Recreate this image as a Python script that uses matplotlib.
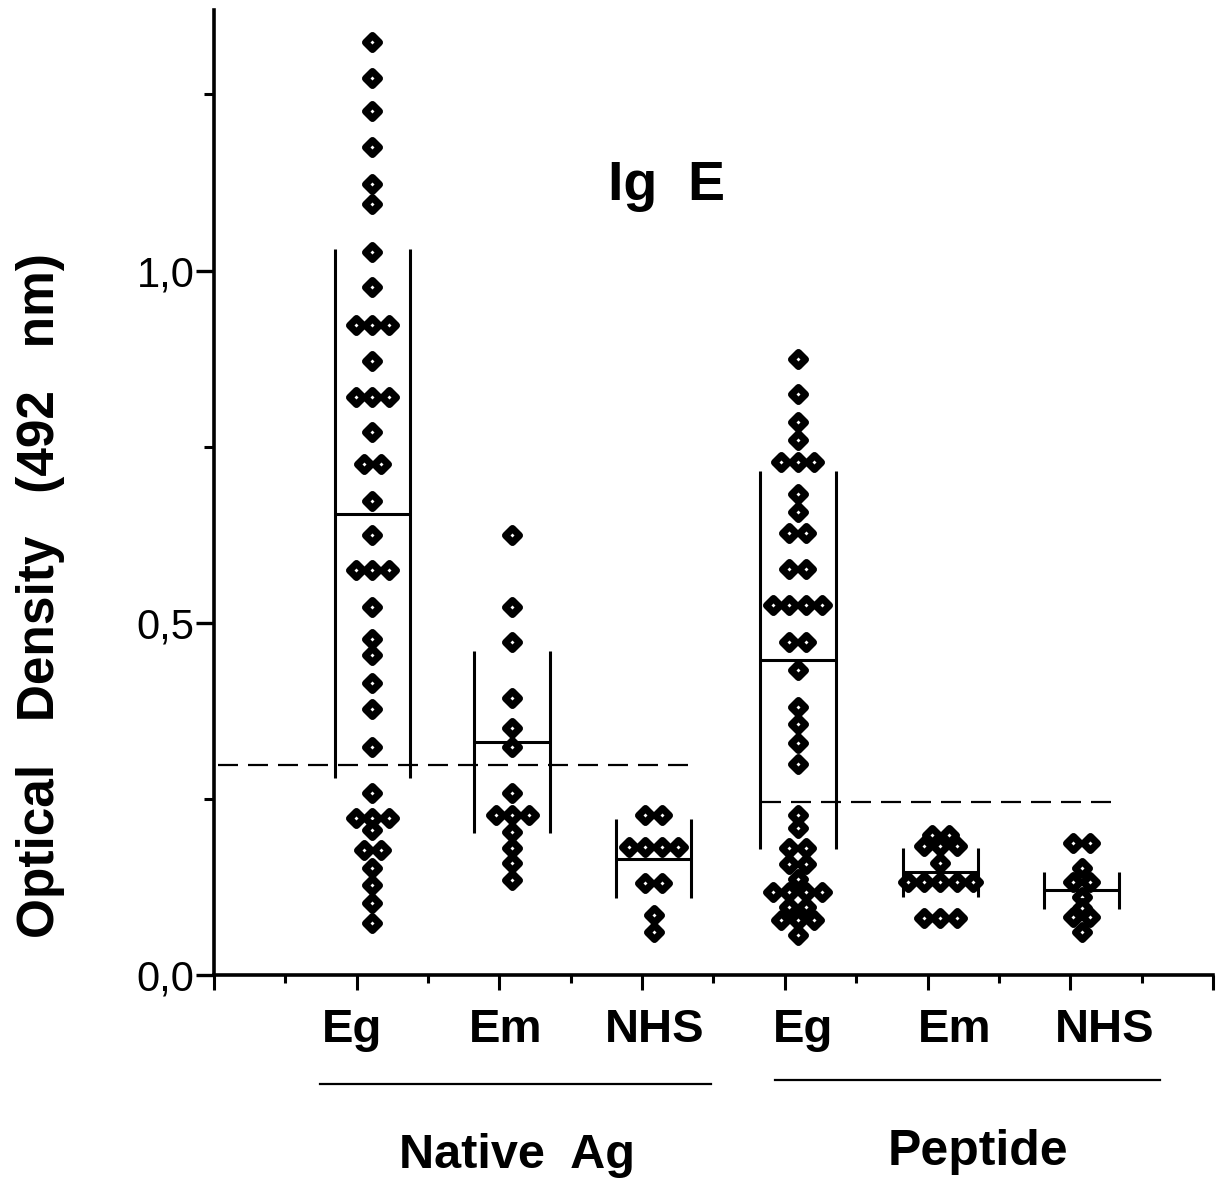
import matplotlib
matplotlib.use("Agg")
import matplotlib.pyplot as plt
from matplotlib.markers import MarkerStyle
from matplotlib.transforms import blended_transform_factory
from collections import Counter

plt.rcParams['font.family'] = ['Liberation Sans', 'DejaVu Sans']

# ---------------- data ----------------
categories = ["Eg", "Em", "NHS", "Eg", "Em", "NHS"]
groups = ["Native  Ag", "Peptide"]

native_eg = [1.324, 1.274, 1.226, 1.175, 1.123, 1.095, 1.026, 0.976,
             0.923, 0.923, 0.923, 0.872, 0.820, 0.820, 0.820, 0.771,
             0.726, 0.726, 0.673, 0.624, 0.575, 0.575, 0.575, 0.522,
             0.477, 0.454, 0.414, 0.377, 0.324, 0.258, 0.223, 0.223,
             0.223, 0.206, 0.177, 0.177, 0.152, 0.128, 0.102, 0.074]
native_em = [0.624, 0.522, 0.473, 0.393, 0.350, 0.324, 0.258,
             0.227, 0.227, 0.227, 0.203, 0.180, 0.159, 0.135]
native_nhs = [0.227, 0.227, 0.182, 0.182, 0.182, 0.182, 0.130, 0.130,
              0.085, 0.061]
pep_eg = [0.875, 0.825, 0.785, 0.759, 0.728, 0.728, 0.728, 0.683, 0.657,
          0.627, 0.627, 0.577, 0.577, 0.525, 0.525, 0.525, 0.525,
          0.473, 0.473, 0.433, 0.381, 0.357, 0.329, 0.300,
          0.227, 0.209, 0.180, 0.180, 0.157, 0.157, 0.136,
          0.118, 0.118, 0.118, 0.118, 0.096, 0.096, 0.078, 0.078, 0.078,
          0.057]
pep_em = [0.199, 0.199, 0.183, 0.183, 0.183, 0.159,
          0.132, 0.132, 0.132, 0.132, 0.132, 0.081, 0.081, 0.081]
pep_nhs = [0.187, 0.187, 0.152, 0.132, 0.132, 0.111, 0.095, 0.082,
           0.082, 0.061]

series = [native_eg, native_em, native_nhs, pep_eg, pep_em, pep_nhs]
means = [0.655, 0.331, 0.165, 0.447, 0.146, 0.120]
sds = [0.375, 0.129, 0.056, 0.268, 0.035, 0.026]
cutoffs = [0.298, 0.245]

yticks = [0.0, 0.5, 1.0]
ytick_labels = ["0,0", "0,5", "1,0"]

# ---------------- layout ----------------
positions = [1.11, 2.09, 3.08, 4.09, 5.09, 6.08]
label_x = [0.97, 2.04, 3.09, 4.13, 5.19, 6.24]
dot_step = 0.115
bar_half = 0.265

fig = plt.figure(figsize=(12.16, 11.85), dpi=100)
ax = fig.add_axes([0.176, 0.1772, 0.8215, 0.8144])
ax.set_xlim(0, 7)
ax.set_ylim(0, 1.37)

marker = MarkerStyle('D', joinstyle='round')

for pos, vals, m, s in zip(positions, series, means, sds):
    counts = Counter(vals)
    seen = Counter()
    xs, ys = [], []
    for v in vals:
        n = counts[v]
        k = seen[v]
        seen[v] += 1
        xs.append(pos + (k - (n - 1) / 2) * dot_step)
        ys.append(v)
    ax.plot(xs, ys, linestyle='none', marker=marker, ms=7.2, mew=5.1,
            mfc='white', mec='black', zorder=3)
    # mean +/- SD frame
    ax.vlines([pos - bar_half, pos + bar_half], m - s, m + s,
              colors='black', lw=2.2, zorder=2)
    ax.hlines(m, pos - bar_half, pos + bar_half, colors='black', lw=2.2,
              zorder=4)

# cutoff lines
ax.hlines(cutoffs[0], 0.03, 3.32, colors='black', lw=1.6,
          linestyles=(0, (9, 4.5)), zorder=2)
ax.hlines(cutoffs[1], 3.83, 6.33, colors='black', lw=1.6,
          linestyles=(0, (9, 4.5)), zorder=2)

# axes style
for side in ['top', 'right']:
    ax.spines[side].set_visible(False)
ax.spines['left'].set_linewidth(2.6)
ax.spines['bottom'].set_linewidth(2.6)

ax.set_xticks(range(0, 8))
ax.set_xticks([i + 0.5 for i in range(7)], minor=True)
ax.set_xticklabels([])
ax.tick_params(axis='x', which='major', direction='out', length=11, width=2.2)
ax.tick_params(axis='x', which='minor', direction='out', length=6, width=2.2)

ax.set_yticks(yticks)
ax.set_yticklabels(ytick_labels)
ax.set_yticks([0.25, 0.75, 1.25], minor=True)
ax.tick_params(axis='y', which='major', direction='out', length=13, width=2.4,
               labelsize=30, pad=1)
ax.tick_params(axis='y', which='minor', direction='out', length=7, width=2.2)

# texts
trans = blended_transform_factory(ax.transData, fig.transFigure)
for x, c in zip(label_x, categories):
    ax.text(x, 0.131, c, transform=trans, ha='center', va='center',
            fontsize=34, fontweight='bold')

ax.plot([0.74, 3.48], [0.0855, 0.0855], transform=trans, color='black',
        lw=1.6, clip_on=False)
ax.plot([3.93, 6.63], [0.0885, 0.0885], transform=trans, color='black',
        lw=1.6, clip_on=False)

ax.text(2.12, 0.025, groups[0], transform=trans, ha='center', va='center',
        fontsize=35, fontweight='bold')
ax.text(5.35, 0.028, groups[1], transform=trans, ha='center', va='center',
        fontsize=36, fontweight='bold')

ax.text(3.17, 1.12, "Ig  E", ha='center', va='center', fontsize=40,
        fontweight='bold')

fig.text(0.033, 0.497, "Optical   Density   (492   nm)", rotation=90,
         ha='center', va='center', fontsize=37, fontweight='bold')

fig.savefig("out.png", dpi=100)
